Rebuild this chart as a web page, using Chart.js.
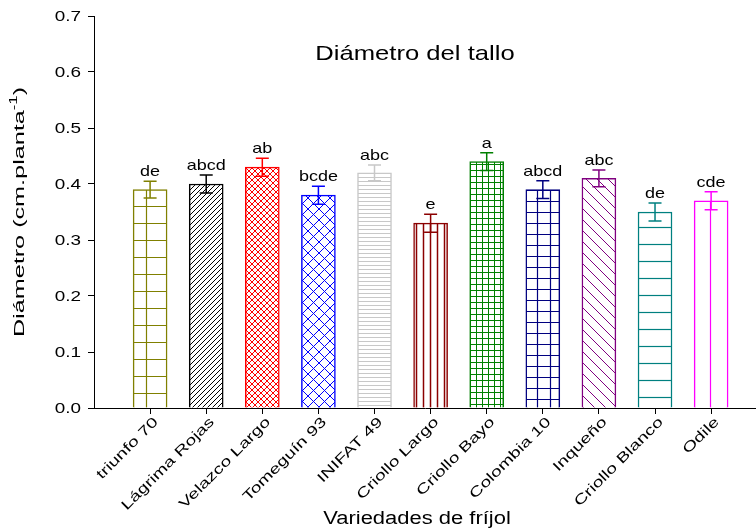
<!DOCTYPE html>
<html>
<head>
<meta charset="utf-8">
<script src="https://cdn.jsdelivr.net/npm/chart.js@4.4.1/dist/chart.umd.min.js"></script>
<style>
  html, body { margin: 0; padding: 0; background: #fff; overflow: hidden; }
  #wrap { width: 756px; height: 531px; }
</style>
</head>
<body>
<div id="wrap"><canvas id="c" width="756" height="531"></canvas></div>
<script>
// Stem diameter per bean variety (cm per plant), standard error and significance groups
const varieties = ['triunfo 70', 'Lágrima Rojas', 'Velazco Largo', 'Tomeguín 93', 'INIFAT 49',
  'Criollo Largo', 'Criollo Bayo', 'Colombia 10', 'Inqueño', 'Criollo Blanco', 'Odile'];
const diameter = [0.39, 0.40, 0.43, 0.38, 0.42, 0.33, 0.44, 0.39, 0.41, 0.35, 0.37];
const stdError = [0.015, 0.016, 0.016, 0.016, 0.014, 0.016, 0.016, 0.016, 0.015, 0.016, 0.016];
const groups = ['de', 'abcd', 'ab', 'bcde', 'abc', 'e', 'a', 'abcd', 'abc', 'de', 'cde'];
const yTicks = [0.0, 0.1, 0.2, 0.3, 0.4, 0.5, 0.6, 0.7];

const chartTitle = 'Diámetro del tallo';
const xTitle = 'Variedades de fríjol';
const yTitle = ['Diámetro (cm.planta', '-1', ')'];

const FONT = "'Liberation Sans', Arial, Helvetica, sans-serif";

// ---- hatch fills --------------------------------------------------------
function tile(w, h, color, lw, paint) {
  const c = document.createElement('canvas');
  c.width = w; c.height = h;
  const g = c.getContext('2d');
  g.fillStyle = '#fff';
  g.fillRect(0, 0, w, h);
  g.strokeStyle = color;
  g.lineWidth = lw;
  g.beginPath();
  paint(g, w, h);
  g.stroke();
  return g.createPattern(c, 'repeat');
}
const seg = (g, x1, y1, x2, y2) => { g.moveTo(x1, y1); g.lineTo(x2, y2); };
const grid = (vx, hy) => (g, w, h) => {
  if (vx !== null) seg(g, vx, 0, vx, h);
  if (hy !== null) seg(g, 0, hy, w, hy);
};
const slash = (g, w, h) => { seg(g, -1, h + 1, w + 1, -1); seg(g, -1, 1, 1, -1); seg(g, w - 1, h + 1, w + 1, h - 1); };
const backslash = (g, w, h) => { seg(g, -1, -1, w + 1, h + 1); seg(g, w - 1, -1, w + 1, 1); seg(g, -1, h - 1, 1, h + 1); };
const cross = (g, w, h) => { slash(g, w, h); backslash(g, w, h); };

const colors = ['#808000', '#000000', '#ff0000', '#0000ff', '#c8c8c8', '#8b0000',
  '#008000', '#000080', '#800080', '#008080', '#ff00ff'];
const fills = [
  tile(24, 17, colors[0], 1.2, grid(2.5, 2.5)),
  tile(5, 5, colors[1], 1, slash),
  tile(6, 6, colors[2], 1, cross),
  tile(11, 11, colors[3], 1, cross),
  tile(4, 4, colors[4], 1, grid(null, 1.5)),
  tile(7, 8, colors[5], 1.5, grid(3.5, null)),
  tile(6, 6, colors[6], 1, grid(2.5, 2.5)),
  tile(13, 11, colors[7], 1.2, grid(4.5, 3.5)),
  tile(11, 11, colors[8], 1, backslash),
  tile(4, 17, colors[9], 1.2, grid(null, 6.5)),
  tile(34, 4, colors[10], 1.2, grid(30.5, null))
];

// ---- text helper: stretched along the baseline ---------------------------
function drawText(ctx, parts, x, y, o) {
  ctx.save();
  ctx.translate(x, y);
  if (o.rot) ctx.rotate(o.rot);
  ctx.scale(o.sx || 1, 1);
  ctx.fillStyle = '#000';
  ctx.textBaseline = o.baseline || 'alphabetic';
  ctx.textAlign = 'left';
  const widths = parts.map(p => { ctx.font = p.size + 'px ' + FONT; return ctx.measureText(p.t).width; });
  const total = widths.reduce((a, b) => a + b, 0);
  let pos = o.align === 'right' ? -total : o.align === 'left' ? 0 : -total / 2;
  parts.forEach((p, i) => {
    ctx.font = p.size + 'px ' + FONT;
    ctx.fillText(p.t, pos, p.dy || 0);
    pos += widths[i];
  });
  ctx.restore();
}

const annotations = {
  id: 'annotations',
  afterDatasetsDraw(chart) {
    const ctx = chart.ctx;
    const xs = chart.scales.x, ys = chart.scales.y;
    diameter.forEach((v, i) => {
      const x = xs.getPixelForValue(i + 1);
      const top = ys.getPixelForValue(v + stdError[i]);
      const bot = ys.getPixelForValue(v - stdError[i]);
      ctx.save();
      ctx.strokeStyle = colors[i];
      ctx.lineWidth = 1.5;
      ctx.beginPath();
      ctx.moveTo(x, top); ctx.lineTo(x, bot);
      ctx.moveTo(x - 6.5, top); ctx.lineTo(x + 6.5, top);
      ctx.moveTo(x - 6.5, bot); ctx.lineTo(x + 6.5, bot);
      ctx.stroke();
      ctx.restore();
      drawText(ctx, [{ t: groups[i], size: 15 }], x, top - 5, { sx: 1.2 });
    });
  },
  afterDraw(chart) {
    const ctx = chart.ctx;
    const xs = chart.scales.x, ys = chart.scales.y;
    const area = chart.chartArea;
    // y tick labels
    yTicks.forEach(t => {
      drawText(ctx, [{ t: t.toFixed(1), size: 14 }], area.left - 13, ys.getPixelForValue(t) + 1,
        { sx: 1.35, align: 'right', baseline: 'middle' });
    });
    // x tick labels, rotated
    varieties.forEach((name, i) => {
      drawText(ctx, [{ t: name, size: 14 }], xs.getPixelForValue(i + 1) + 6, area.bottom + 12,
        { sx: 1.38, align: 'right', baseline: 'middle', rot: -Math.PI / 4 });
    });
    // titles
    drawText(ctx, [{ t: chartTitle, size: 21 }], 415, 60, { sx: 1.22 });
    drawText(ctx, [{ t: xTitle, size: 18 }], 417, 524, { sx: 1.22 });
    drawText(ctx, [
      { t: yTitle[0], size: 15 },
      { t: yTitle[1], size: 10, dy: -6 },
      { t: yTitle[2], size: 15 }
    ], 20, 212, { sx: 1.68, baseline: 'middle', rot: -Math.PI / 2 });
  }
};

new Chart(document.getElementById('c'), {
  type: 'bar',
  data: {
    datasets: [{
      data: diameter.map((v, i) => ({ x: i + 1, y: v })),
      backgroundColor: fills,
      borderColor: colors,
      borderWidth: 1.5,
      barThickness: 34
    }]
  },
  options: {
    responsive: false,
    animation: false,
    devicePixelRatio: 1,
    layout: { padding: { left: 88, top: 16, right: 0, bottom: 117 } },
    plugins: { legend: { display: false }, tooltip: { enabled: false }, title: { display: false } },
    scales: {
      x: {
        type: 'linear', min: 0, max: 11.8, offset: false,
        grid: { drawOnChartArea: false, color: '#000', tickLength: 6, offset: false, lineWidth: 1 },
        border: { color: '#000', width: 1 },
        ticks: { display: false },
        afterBuildTicks: s => { s.ticks = varieties.map((_, i) => ({ value: i + 1 })); }
      },
      y: {
        min: 0, max: 0.7,
        grid: { drawOnChartArea: false, color: '#000', tickLength: 6, lineWidth: 1 },
        border: { color: '#000', width: 1 },
        ticks: { display: false, stepSize: 0.1 },
        afterBuildTicks: s => { s.ticks = yTicks.map(v => ({ value: v })); }
      }
    }
  },
  plugins: [annotations]
});
</script>
</body>
</html>
